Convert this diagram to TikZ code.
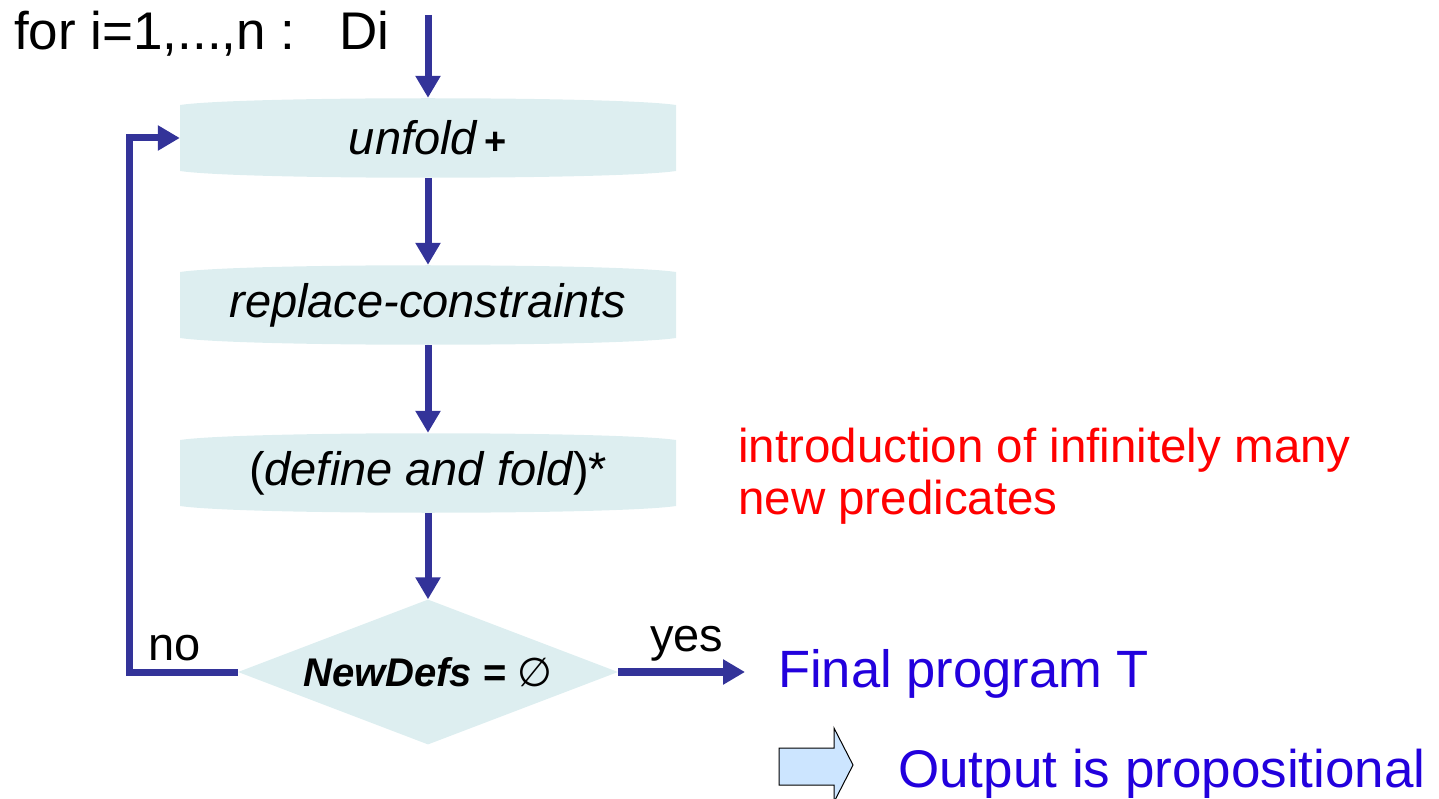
\documentclass[tikz,border=0pt]{standalone}
\usepackage{fontspec}
\setmainfont{Liberation Sans}
\newfontfamily\symfont{DejaVu Sans}
\usepackage{tikz}
\usetikzlibrary{arrows.meta,shapes.geometric,positioning}
\definecolor{flowblue}{RGB}{51,51,153}
\definecolor{boxfill}{RGB}{221,238,240}
\definecolor{outblue}{RGB}{34,0,221}
\definecolor{arrowfill}{RGB}{204,229,255}
\tikzstyle{stepbox}=[minimum width=496pt,minimum height=80pt,inner sep=0pt,
  font=\fontsize{47}{52}\selectfont\itshape,
  path picture={\fill[boxfill]
    ([yshift=-7pt]path picture bounding box.north west)
    .. controls ([xshift=60pt,yshift=2pt]path picture bounding box.north west)
    and ([xshift=-60pt,yshift=2pt]path picture bounding box.north east)
    .. ([yshift=-7pt]path picture bounding box.north east)
    -- ([yshift=7pt]path picture bounding box.south east)
    .. controls ([xshift=-60pt,yshift=-2pt]path picture bounding box.south east)
    and ([xshift=60pt,yshift=-2pt]path picture bounding box.south west)
    .. ([yshift=7pt]path picture bounding box.south west) -- cycle;}]
\tikzstyle{flow}=[draw=flowblue,line width=7pt,-{Triangle[length=22pt,width=24pt]}]
\tikzstyle{plain}=[inner sep=0pt,font=\fontsize{47}{52}\selectfont]

\begin{document}
\begin{tikzpicture}[x=1pt,y=-1pt]
\useasboundingbox (0,0) rectangle (1439,799);
  \node[plain,anchor=base west,font=\fontsize{53}{58}\selectfont] (header) at (14,50)
    {for i=1,...,n :\ \ \ Di};
  \coordinate (start) at (428,15);
  \node[stepbox] (unfold) at (428,138) {unfold\,\upshape\bfseries\fontsize{38}{40}\selectfont +};
  \node[stepbox] (replace) at (428,305) {replace-constraints};
  \node[stepbox] (deffold) at (428,473) {\upshape(\itshape define and fold\upshape)*};
  \node[draw=none,fill=boxfill,diamond,aspect=2.6,inner sep=0pt,
        minimum width=380pt,minimum height=145pt,font=\fontsize{40}{44}\selectfont]
    (test) at (428,672) {\bfseries\itshape NewDefs \upshape= \mdseries\symfont ∅};
  \foreach \source/\dest in {start/unfold,unfold/replace,replace/deffold,deffold/test}
      \path[flow] (\source) -- (\dest);
  \draw[flow] (test.west) -- ++(-108pt,0)
    node[plain,anchor=base west,xshift=15pt,yshift=12pt] (no) {no}
    |- (unfold.west);
  \node[plain,anchor=base west,text=outblue,font=\fontsize{52.5}{58}\selectfont]
    (final) at (778,687) {Final program T};
  \coordinate (yesend) at (745,672);
  \draw[flow,line width=8pt] (test.east) -- (yesend)
    node[plain,midway,above=7pt,xshift=5pt] (yes) {yes};
  \node[plain,anchor=north west,align=left,text=red,font=\fontsize{47.5}{52}\selectfont]
    (note) at (738,428) {introduction of infinitely many\\new predicates};
  \draw[fill=arrowfill,line width=1pt] (779,748) -- (834,748) -- (834,728) -- (853,765)
    -- (834,802) -- (834,785) -- (779,785) -- cycle;
  \node[plain,anchor=base west,text=outblue,font=\fontsize{53}{58}\selectfont]
    (output) at (898,787) {Output is propositional};
\end{tikzpicture}
\end{document}
